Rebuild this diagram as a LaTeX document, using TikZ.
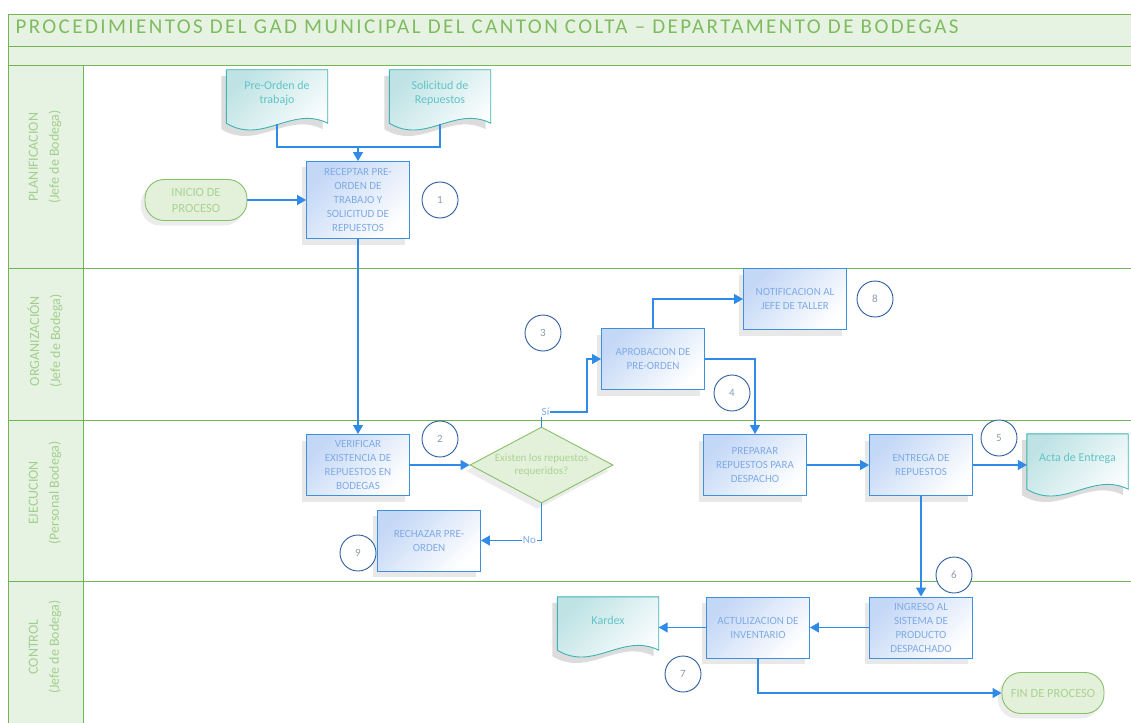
\documentclass[tikz,border=0pt]{standalone}
\usepackage{fontspec}
\setmainfont{Carlito}
\usetikzlibrary{shapes.geometric,arrows.meta,shadows,backgrounds}

\definecolor{lanegreen}{HTML}{74B453}
\definecolor{lanefill}{HTML}{E7F3E2}
\definecolor{titlegreen}{HTML}{7FBC60}
\definecolor{lanetext}{HTML}{A3CF8E}
\definecolor{procline}{HTML}{3D8FE0}
\definecolor{procfill}{HTML}{C3D7F6}
\definecolor{proctext}{HTML}{80ABE6}
\definecolor{flowblue}{HTML}{2F8AE8}
\definecolor{docteal}{HTML}{3CB3B5}
\definecolor{docfill}{HTML}{BFE3E5}
\definecolor{doctext}{HTML}{62C4C5}
\definecolor{docshade}{HTML}{DCDCDC}
\definecolor{termline}{HTML}{86C067}
\definecolor{termfill}{HTML}{E3F1DB}
\definecolor{termtext}{HTML}{ABD293}
\definecolor{circline}{HTML}{2C5E9F}
\definecolor{circtext}{HTML}{8D9CAE}

% document shape with a wavy lower edge, 7pt below the node's south side
\newcommand{\wavedoc}[1]{%
  \fill[docshade, transform canvas={shift={(-5pt,-6pt)}}]
    (#1.north west) -- (#1.north east) -- ([yshift=-7pt]#1.south east)
    .. controls ([shift={(-36pt,11pt)}]#1.south east) and ([shift={(36pt,-29pt)}]#1.south west) .. ([yshift=-7pt]#1.south west) -- cycle;
  \draw[docline] (#1.north west) -- (#1.north east) -- ([yshift=-7pt]#1.south east)
    .. controls ([shift={(-36pt,11pt)}]#1.south east) and ([shift={(36pt,-29pt)}]#1.south west) .. ([yshift=-7pt]#1.south west) -- cycle;}

\begin{document}
\begin{tikzpicture}[
    x = 1pt, y = -1pt,
    every node/.style = {align = center},
    lane/.style = {draw = lanegreen, line width = 1pt},
    lanelabel/.style = {rotate = 90, text = lanetext, font = \fontsize{14}{21}\selectfont},
    proc/.style = {draw = procline, line width = 0.9pt, top color = procfill, bottom color = white,
                   shading angle = 45, minimum width = 103pt, minimum height = 61pt, inner sep = 1pt,
                   text = proctext, font = \fontsize{11}{14}\selectfont,
                   drop shadow = {shadow xshift = -5pt, shadow yshift = -6pt, opacity = 0.18}},
    docbox/.style = {minimum width = 101pt, minimum height = 46pt, inner sep = 0pt,
                     text = doctext, font = \fontsize{12}{14}\selectfont},
    docline/.style = {draw = docteal, line width = 0.9pt, top color = docfill, bottom color = white, shading angle = 45},
    term/.style = {draw = termline, line width = 0.9pt, fill = termfill, rounded corners = 19pt,
                   minimum width = 102pt, minimum height = 41pt, text = termtext,
                   font = \fontsize{12.5}{16}\selectfont,
                   drop shadow = {shadow xshift = -4pt, shadow yshift = -5pt, opacity = 0.15}},
    decision/.style = {diamond, draw = termline, line width = 0.9pt, fill = termfill, aspect = 1.9,
                       minimum width = 143pt, minimum height = 76pt, inner sep = 0pt, text = termtext,
                       font = \fontsize{11}{13}\selectfont,
                       drop shadow = {shadow xshift = -4pt, shadow yshift = -6pt, opacity = 0.15}},
    numcirc/.style = {circle, draw = circline, line width = 0.9pt, fill = white, minimum size = 36pt,
                      inner sep = 0pt, text = circtext, font = \fontsize{11}{13}\selectfont},
    link/.style = {draw = flowblue, line width = 1.3pt},
    flow/.style = {link, -{Triangle[length = 9pt, width = 10pt]}},
    lbl/.style = {fill = white, inner sep = 1pt, text = proctext, font = \fontsize{11}{13}\selectfont}]

\useasboundingbox (0,0) rectangle (1131,722);
\clip (0,0) rectangle (1131,722);

% swim lanes
\fill[lanefill] (8,15) rectangle (1140,66);
\fill[lanefill] (8,66) rectangle (83,730);
\draw[lane] (1140,15) -- (8,15) -- (8,730)
      (8,47) -- (1140,47)
      (8,66) -- (1140,66)
      (83,66) -- (83,730)
      (8,268) -- (1140,268)
      (8,420) -- (1140,420)
      (8,581) -- (1140,581);
\node[anchor = west, text = titlegreen, font = \fontsize{21}{23}\selectfont\addfontfeature{LetterSpace=11.5}] (title) at (12,27)
      {PROCEDIMIENTOS DEL GAD MUNICIPAL DEL CANTON COLTA -- DEPARTAMENTO DE BODEGAS};
\node[lanelabel] (plan) at (45,157) {PLANIFICACION\\(Jefe de Bodega)};
\node[lanelabel] (orga) at (45,341) {ORGANIZACIÓN\\(Jefe de Bodega)};
\node[lanelabel] (ejec) at (45,493) {EJECUCION\\(Personal Bodega)};
\node[lanelabel] (ctrl) at (45,647) {CONTROL\\(Jefe de Bodega)};

% documents
\node[docbox] (prein) at (277,93) {Pre-Orden de\\trabajo};
\node[docbox] (reqdoc) at (440,93) {Solicitud de\\Repuestos};
\node[docbox, minimum height = 48pt] (acta) at (1077.5,458) {Acta de Entrega};
\node[docbox, minimum height = 46pt] (kardex) at (608,620) {Kardex};
\begin{scope}[on background layer]
  \foreach \d in {prein, reqdoc, acta, kardex} {\wavedoc{\d}}
\end{scope}

% process steps
\node[term] (inicio) at (196,200) {INICIO DE\\PROCESO};
\node[proc, minimum height = 77pt] (recept) at (358,200) {RECEPTAR PRE-\\ORDEN DE\\TRABAJO Y\\SOLICITUD DE\\REPUESTOS};
\node[proc] (verif) at (358,465) {VERIFICAR\\EXISTENCIA DE\\REPUESTOS EN\\BODEGAS};
\node[decision] (existe) at (541.5,465) {Existen los repuestos\\requeridos?};
\node[proc] (aprob) at (653,359) {APROBACION DE\\PRE-ORDEN};
\node[proc] (notif) at (795,299) {NOTIFICACION AL\\JEFE DE TALLER};
\node[proc] (rechazo) at (429,540.5) {RECHAZAR PRE-\\ORDEN};
\node[proc] (prep) at (755,465) {PREPARAR\\REPUESTOS PARA\\DESPACHO};
\node[proc] (entrega) at (921,465) {ENTREGA DE\\REPUESTOS};
\node[proc] (ingreso) at (921,627.5) {INGRESO AL\\SISTEMA DE\\PRODUCTO\\DESPACHADO};
\node[proc] (actual) at (758,627.5) {ACTULIZACION DE\\INVENTARIO};
\node[term] (fin) at (1053,693) {FIN DE PROCESO};

% connectors
\coordinate (join) at (358,147);
\coordinate (siturn) at (587,412);
\draw[link] ([yshift=-8pt]prein.south) -- (prein.south |- join) -- (reqdoc.south |- join) -- ([yshift=-8pt]reqdoc.south);
\draw[flow] (join) -- (recept.north);
\draw[flow] (inicio) -- (recept);
\draw[flow] (recept) -- (verif);
\draw[flow] (verif) -- (existe);
\draw[flow] (existe.north) |- (siturn) |- (aprob.west);
\node[lbl, anchor = west] (si) at ([xshift = -1pt]existe.north |- siturn) {Sí};
\draw[flow] (aprob.north) |- (notif.west);
\draw[flow] (aprob.east) -| (prep.north);
\draw[flow] (existe.south) |- (rechazo.east) node[lbl, pos = 0.6] (no) {No};
\draw[flow] (prep) -- (entrega);
\draw[flow] (entrega.east) -- (entrega.east -| acta.west);
\draw[flow] (entrega) -- (ingreso);
\draw[flow] (ingreso) -- (actual);
\draw[flow] (actual.west) -- (actual.west -| kardex.east);
\draw[flow] (actual.south) |- (fin.west);

% step numbers
\node[numcirc] (n1) at (440,200) {1};
\node[numcirc] (n2) at (440,439) {2};
\node[numcirc] (n3) at (543,333) {3};
\node[numcirc] (n4) at (732,393) {4};
\node[numcirc] (n5) at (999,438) {5};
\node[numcirc] (n6) at (954,575) {6};
\node[numcirc] (n7) at (683,674) {7};
\node[numcirc] (n8) at (875,299) {8};
\node[numcirc] (n9) at (358,553) {9};
\end{tikzpicture}
\end{document}
